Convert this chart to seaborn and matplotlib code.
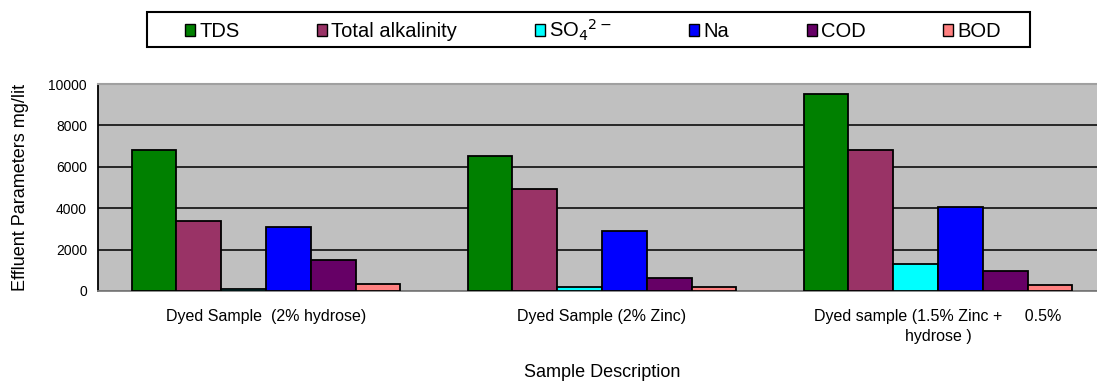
import matplotlib
matplotlib.use("Agg")
import matplotlib.pyplot as plt
from matplotlib.patches import Patch, Rectangle
import seaborn as sns
import pandas as pd

samples = [
    "Dyed Sample  (2% hydrose)",
    "Dyed Sample (2% Zinc)",
    "Dyed sample (1.5% Zinc +     0.5%\nhydrose )",
]
parameters = ["TDS", "Total alkalinity", "SO$_4$$^{2-}$", "Na", "COD", "BOD"]
tds = [6800, 6500, 9500]
total_alkalinity = [3400, 4950, 6800]
so4 = [80, 170, 1300]
na = [3100, 2900, 4050]
cod = [1500, 650, 950]
bod = [350, 170, 280]
colors = ["#008000", "#993366", "#00FFFF", "#0000FF", "#660066", "#FF8080"]

series = [tds, total_alkalinity, so4, na, cod, bod]
rows = []
for name, vals in zip(parameters, series):
    for s, v in zip(samples, vals):
        rows.append({"Sample": s, "Parameter": name, "Value": v})
df = pd.DataFrame(rows)

sns.set_style("white")
plt.rcParams["font.family"] = ["Liberation Sans", "DejaVu Sans"]
plt.rcParams["text.color"] = "black"
plt.rcParams["axes.labelcolor"] = "black"
plt.rcParams["xtick.color"] = "black"
plt.rcParams["ytick.color"] = "black"

W, H = 1097, 381
fig = plt.figure(figsize=(W / 100, H / 100), dpi=100)
ax_l, ax_r, ax_t, ax_b = 98, 1106, 84, 291
ax = fig.add_axes([ax_l / W, 1 - ax_b / H, (ax_r - ax_l) / W, (ax_b - ax_t) / H])
ax.set_facecolor("#C0C0C0")

sns.barplot(data=df, x="Sample", y="Value", hue="Parameter",
            hue_order=parameters, order=samples, palette=colors,
            saturation=1, width=0.8, edgecolor="black", linewidth=1.3,
            legend=False, ax=ax, zorder=3)

ax.set_ylim(0, 10000)
ax.set_xlim(-0.5, 2.5)
ax.set_yticks(range(0, 10001, 2000))
ax.set_yticklabels([str(v) for v in range(0, 10001, 2000)], fontsize=10)
ax.yaxis.grid(True, color="#1a1a1a", linewidth=1.3, zorder=1)
ax.set_axisbelow(True)

ax.tick_params(axis="y", direction="out", length=5, width=1, color="black", pad=3)
ax.tick_params(axis="x", which="major", length=0, pad=13, labelsize=11.5)
for lbl in ax.get_xticklabels():
    lbl.set_linespacing(1.45)
ax.set_xticks([0.5, 1.5], minor=True)
ax.tick_params(axis="x", which="minor", direction="out", length=5, width=1, color="black")

for side in ["top", "right"]:
    ax.spines[side].set_color("#A0A0A0")
    ax.spines[side].set_linewidth(1.5)
ax.spines["left"].set_color("black")
ax.spines["left"].set_linewidth(1.3)
ax.spines["bottom"].set_color("#808080")
ax.spines["bottom"].set_linewidth(1.3)

ax.set_ylabel("Effluent Parameters mg/lit", fontsize=13)
ax.yaxis.set_label_coords((29 - ax_l) / (ax_r - ax_l), 0.5)
ax.set_xlabel("Sample Description", fontsize=13)
ax.xaxis.set_label_coords(0.5, (ax_b - 364) / (ax_b - ax_t))

# legend box across the top
box = Rectangle((147 / W, 1 - 47 / H), (1030 - 147) / W, (47 - 12) / H,
                transform=fig.transFigure, facecolor="white",
                edgecolor="black", linewidth=1.5)
fig.patches.append(box)
handles = [Patch(facecolor=c, edgecolor="black", linewidth=1) for c in colors]
fig.legend(handles, parameters, loc="center",
           bbox_to_anchor=(593 / W, 1 - 30 / H), ncol=6, frameon=False,
           fontsize=14.5, handlelength=0.5, handleheight=0.5,
           handletextpad=0.2, columnspacing=3.85)

fig.savefig("out.png", dpi=100)
